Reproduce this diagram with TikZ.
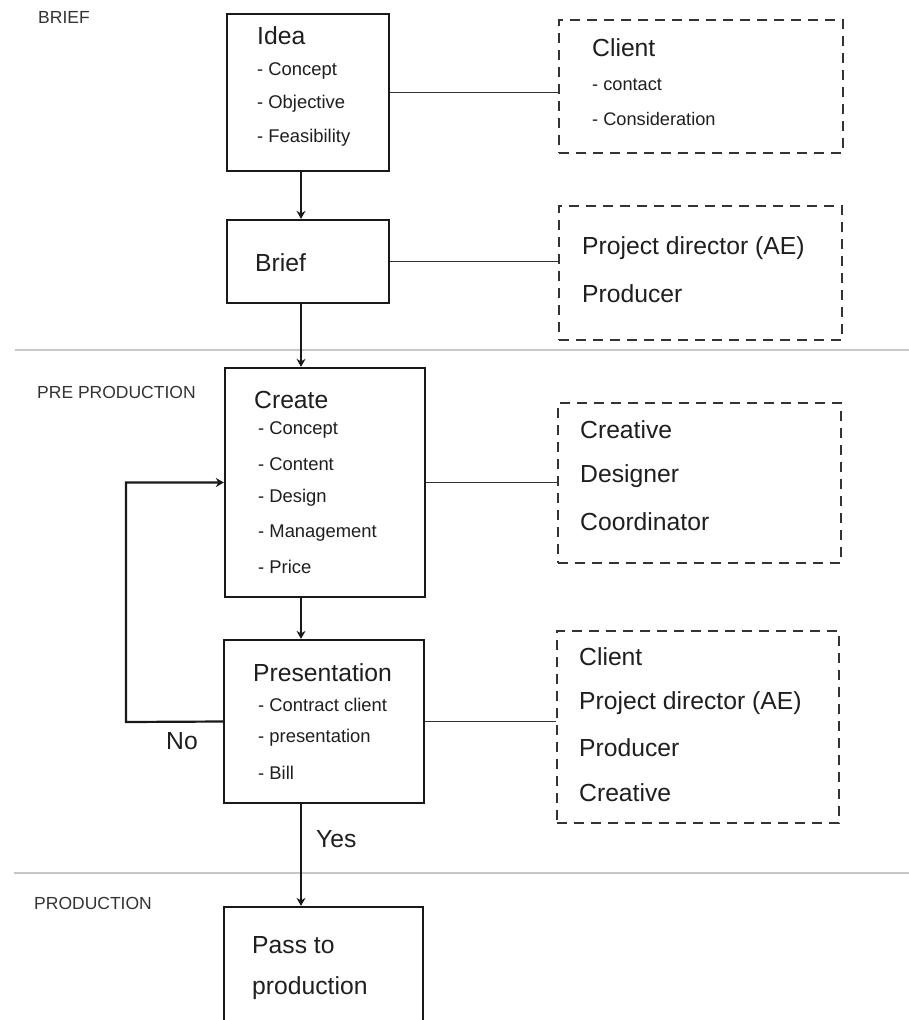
\documentclass[tikz,border=0pt]{standalone}
\usepackage{fontspec}
\setmainfont{Liberation Sans}
\usetikzlibrary{arrows.meta}
\begin{document}
\begin{tikzpicture}[
  x=1pt,y=-1pt,
  solidbox/.style={draw=black!90,line width=2.3pt,inner sep=0pt},
  dashbox/.style={draw=black!80,line width=1.7pt,dash pattern=on 10pt off 7pt,inner sep=0pt},
  link/.style={draw=black!80,line width=1.5pt},
  flow/.style={draw=black!90,line width=2.2pt,-{Stealth[length=8pt,width=9pt]}},
  rule/.style={draw=black!22,line width=1.8pt},
  sect/.style={font=\fontsize{17.5}{20}\selectfont,text=black!80,inner sep=0pt},
  head/.style={font=\fontsize{24.7}{28}\selectfont,text=black!88,inner sep=0pt},
  item/.style={font=\fontsize{18.4}{21}\selectfont,text=black!88,inner sep=0pt},
  small/.style={font=\fontsize{18.2}{20}\selectfont,text=black!88,inner sep=0pt},
]
\clip (0,0) rectangle (909,1020);
\fill[white] (0,0) rectangle (909,1020);
% section rules and titles
\draw[rule] (15,350) -- (909,350);
\draw[rule] (14,873) -- (909,873);
\node[sect,right] (sbrief) at (38,17) {BRIEF};
\node[sect,right] (spre) at (37,392) {PRE PRODUCTION};
\node[sect,right] (sprod) at (34,903) {PRODUCTION};
% main flow boxes
\node[solidbox,minimum width=162pt,minimum height=157pt] (idea) at (308,92.5) {};
\node[solidbox,minimum width=162pt,minimum height=83pt] (brief) at (308,261.5) {};
\node[solidbox,minimum width=200pt,minimum height=229pt] (create) at (325,482.5) {};
\node[solidbox,minimum width=200pt,minimum height=163pt] (pres) at (324,721.5) {};
\node[solidbox,minimum width=199pt,minimum height=153pt] (pass) at (323.5,983.5) {};
% people boxes
\node[dashbox,minimum width=284pt,minimum height=133pt] (client) at (701,86.5) {};
\node[dashbox,minimum width=283pt,minimum height=134pt] (pd) at (700.5,273) {};
\node[dashbox,minimum width=283pt,minimum height=160pt] (crew) at (699.5,483) {};
\node[dashbox,minimum width=282pt,minimum height=192pt] (meet) at (698,727) {};
% texts
\node[head,right] (ideat) at (257,36) {Idea};
\node[item,right] (idea1) at (257,71) {- Concept};
\node[item,right] (idea2) at (257,104) {- Objective};
\node[item,right] (idea3) at (257,138) {- Feasibility};
\node[head,right] (brieft) at (255,263) {Brief};
\node[head,right] (createt) at (254,400) {Create};
\node[item,right] (create1) at (258,430) {- Concept};
\node[item,right] (create2) at (258,464) {- Content};
\node[item,right] (create3) at (258,498) {- Design};
\node[item,right] (create4) at (258,533) {- Management};
\node[item,right] (create5) at (258,567) {- Price};
\node[head,right] (prest) at (253,673) {Presentation};
\node[item,right] (pres1) at (258,705) {- Contract client};
\node[item,right] (pres2) at (258,738) {- presentation};
\node[item,right] (pres3) at (258,773) {- Bill};
\node[head,right] (pass1) at (252,945) {Pass to};
\node[head,right] (pass2) at (252,988) {production};
\node[head,right] (clientt) at (592,48) {Client};
\node[small,right] (client1) at (592,85) {- contact};
\node[small,right] (client2) at (592,119) {- Consideration};
\node[head,right] (pd1) at (582,248) {Project director (AE)};
\node[head,right] (pd2) at (582,294) {Producer};
\node[head,right] (crew1) at (580,430) {Creative};
\node[head,right] (crew2) at (580,476) {Designer};
\node[head,right] (crew3) at (580,522) {Coordinator};
\node[head,right] (meet1) at (579,657) {Client};
\node[head,right] (meet2) at (579,703) {Project director (AE)};
\node[head,right] (meet3) at (579,748) {Producer};
\node[head,right] (meet4) at (579,793) {Creative};
% connectors
\coordinate (spine) at (301,0);
\coordinate (noturn) at (126,722);
\draw[flow] (idea.south -| spine) -- (brief.north -| spine);
\draw[flow] (brief.south -| spine) -- (create.north -| spine);
\draw[flow] (create.south -| spine) -- (pres.north -| spine);
\draw[flow] (pres.south -| spine) -- node[head,right,pos=0.34,xshift=14pt] (yes) {Yes} (pass.north -| spine);
\draw[flow] (pres.west) -- (noturn) |- (create.west);
\node[head] (no) at (182,741) {No};
\draw[link] (idea.east) -- (idea.east -| client.west);
\draw[link] (brief.east) -- (brief.east -| pd.west);
\draw[link] (create.east) -- (create.east -| crew.west);
\draw[link] (pres.east) -- (pres.east -| meet.west);
\end{tikzpicture}
\end{document}
